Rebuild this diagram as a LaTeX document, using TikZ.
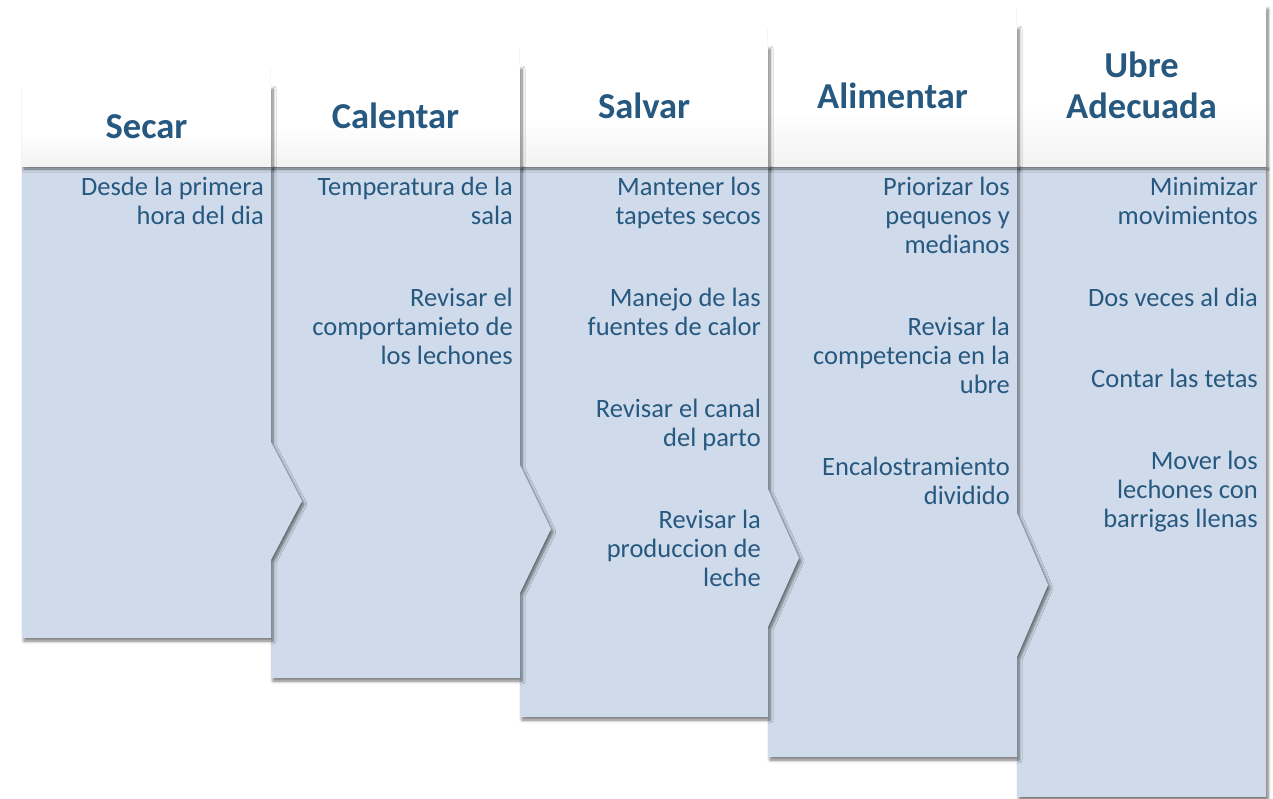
\documentclass[tikz,border=0pt]{standalone}
\usepackage{fontspec}
\setmainfont{Carlito}
\usetikzlibrary{shadows.blur}
\definecolor{txtblue}{RGB}{38,88,128}
\definecolor{bodyfill}{RGB}{207,219,234}
\pgfdeclareverticalshading{hdrshade}{100bp}{color(0bp)=(black!11); color(45bp)=(white); color(100bp)=(white)}
\tikzset{
  shad/.style={blur shadow={shadow xshift=2pt, shadow yshift=-3pt, shadow blur radius=3pt, shadow blur steps=6, shadow opacity=55}},
  bodyshape/.style={fill=bodyfill, shad},
  hdrbox/.style={rectangle, inner sep=0pt, outer sep=0pt, shade, shading=hdrshade, shad},
  title/.style={anchor=base, inner sep=0pt, text=txtblue, font=\fontsize{36.5}{41}\selectfont\bfseries},
  bodytxt/.style={anchor=base east, inner sep=0pt, text=txtblue, font=\fontsize{26.5}{29}\selectfont},
}
\begin{document}
\begin{tikzpicture}[x=1pt,y=-1pt]
\useasboundingbox (0,0) rectangle (1273,798);
% ---- column 5 ----
\path[bodyshape] (1017,166) -- (1266,166) -- (1266,797) -- (1017,797) -- cycle;
\node[hdrbox, minimum width=249pt, minimum height=160pt] (h5) at (1141.5,86) {};
\node[title] (t5a) at (1141.5,77) {Ubre};
\node[title] (t5b) at (1141.5,118) {Adecuada};
% ---- column 4 ----
\path[bodyshape] (768,166) -- (1017,166) -- (1017,513) -- (1048,585) -- (1017,657) -- (1017,757) -- (768,757) -- cycle;
\node[hdrbox, minimum width=249pt, minimum height=140pt] (h4) at (892.5,96) {};
\node[title] (t4) at (892.5,108) {Alimentar};
% ---- column 3 ----
\path[bodyshape] (520,166) -- (768,166) -- (768,489) -- (799,558) -- (768,627) -- (768,717) -- (520,717) -- cycle;
\node[hdrbox, minimum width=248pt, minimum height=120pt] (h3) at (644,106) {};
\node[title] (t3) at (644,118) {Salvar};
% ---- column 2 ----
\path[bodyshape] (271,166) -- (520,166) -- (520,465) -- (551,529) -- (520,593) -- (520,678) -- (271,678) -- cycle;
\node[hdrbox, minimum width=249pt, minimum height=100pt] (h2) at (395.5,116) {};
\node[title] (t2) at (395.5,128) {Calentar};
% ---- column 1 ----
\path[bodyshape] (22,166) -- (271,166) -- (271,442) -- (302,501) -- (271,560) -- (271,638) -- (22,638) -- cycle;
\node[hdrbox, minimum width=249pt, minimum height=80pt] (h1) at (146.5,126) {};
\node[title] (t1) at (146.5,138) {Secar};
% ---- body texts ----
\foreach \y/\t [count=\i] in {195/Desde la primera, 224/hora del dia}
  \node[bodytxt] (a\i) at (264,\y) {\t};
\foreach \y/\t [count=\i] in {195/Temperatura de la, 224/sala, 306/Revisar el, 335/comportamieto de, 364/los lechones}
  \node[bodytxt] (b\i) at (513,\y) {\t};
\foreach \y/\t [count=\i] in {195/Mantener los, 224/tapetes secos, 306/Manejo de las, 335/fuentes de calor, 417/Revisar el canal, 446/del parto, 528/Revisar la, 557/produccion de, 586/leche}
  \node[bodytxt] (c\i) at (761,\y) {\t};
\foreach \y/\t [count=\i] in {195/Priorizar los, 224/pequenos y, 253/medianos, 335/Revisar la, 364/competencia en la, 393/ubre, 475/Encalostramiento, 504/dividido}
  \node[bodytxt] (d\i) at (1010,\y) {\t};
\foreach \y/\t [count=\i] in {195/Minimizar, 224/movimientos, 306/Dos veces al dia, 387/Contar las tetas, 469/Mover los, 498/lechones con, 527/barrigas llenas}
  \node[bodytxt] (e\i) at (1258,\y) {\t};
\end{tikzpicture}
\end{document}
